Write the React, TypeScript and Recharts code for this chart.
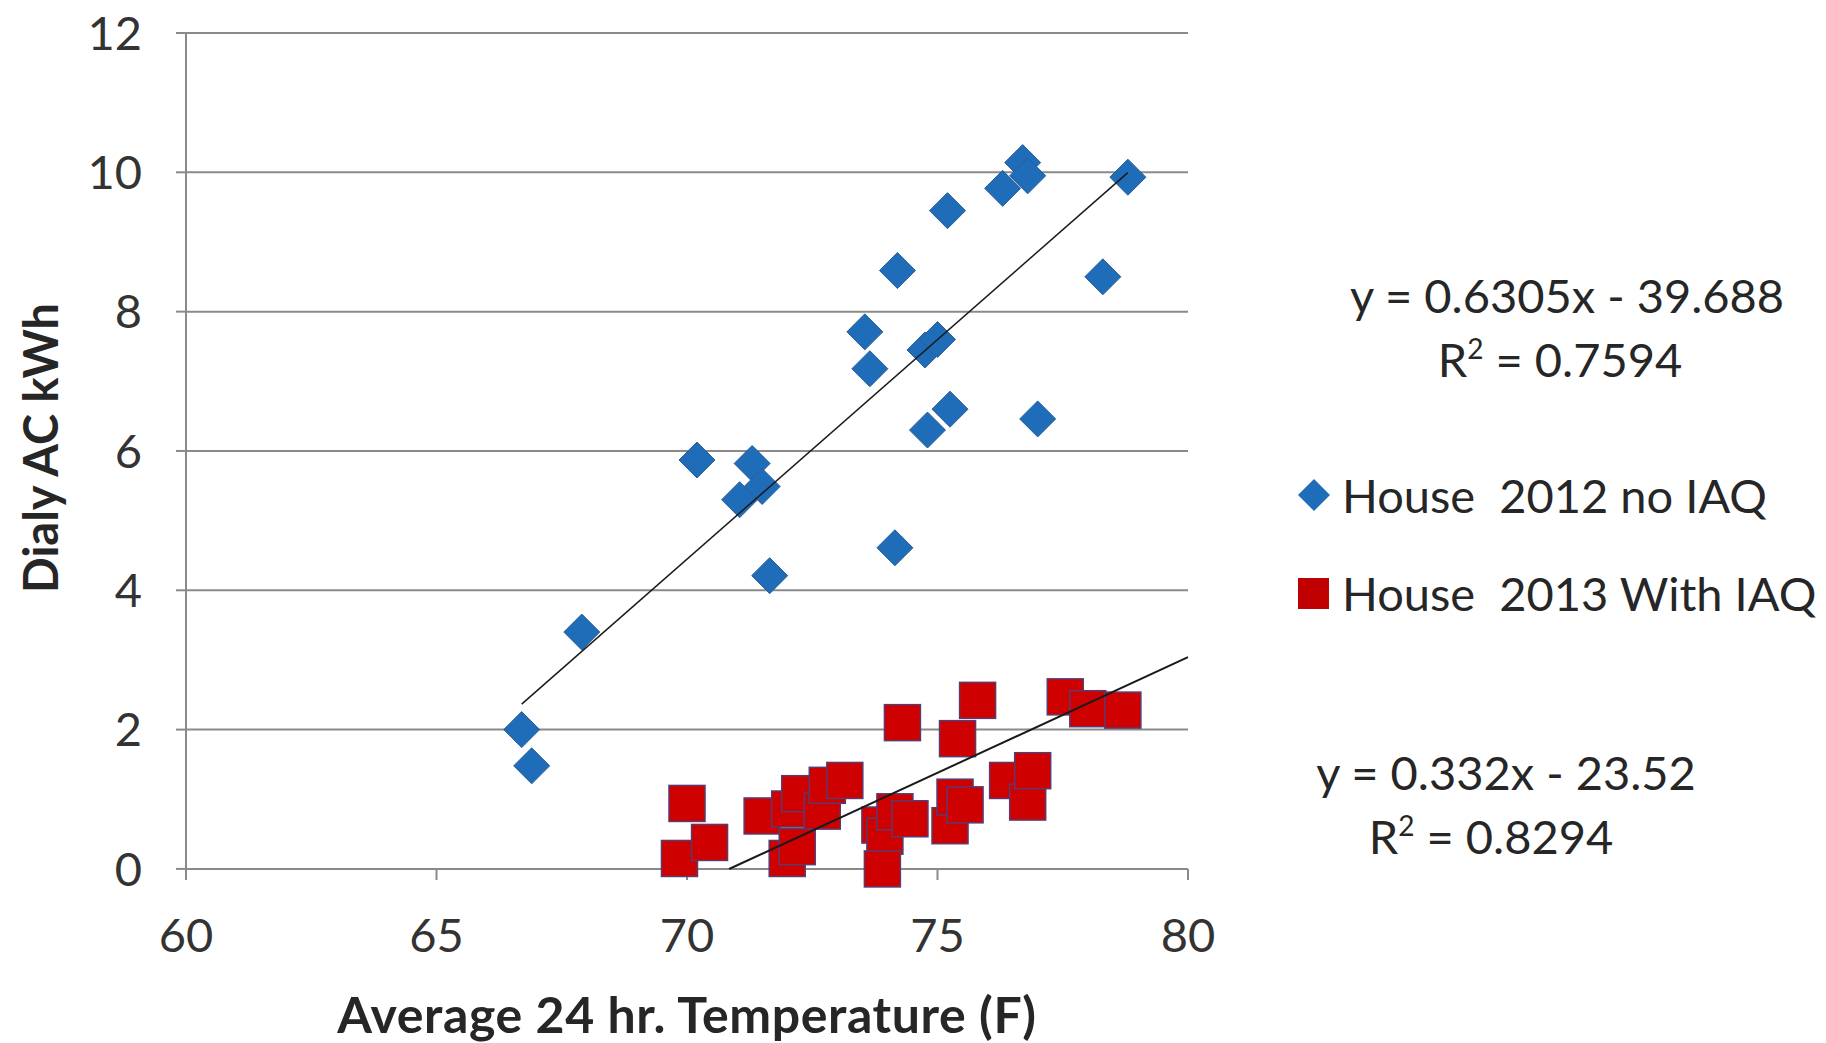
import React from "react";
import { ScatterChart, Scatter, XAxis, YAxis, CartesianGrid, Label } from "recharts";

// axis ticks
const tempTicks = [60, 65, 70, 75, 80];
const kwhTicks = [0, 2, 4, 6, 8, 10, 12];

// House 2012 (no IAQ)
const temp2012 = [66.7, 66.9, 67.9, 70.2, 71.3, 71.05, 71.5, 71.65, 73.55, 73.65, 74.2, 74.15, 74.75, 75.0, 74.8, 75.25, 75.2, 76.3, 76.7, 76.8, 77.0, 78.3, 78.8];
const kwh2012 = [2.0, 1.48, 3.4, 5.87, 5.82, 5.3, 5.49, 4.21, 7.71, 7.18, 8.59, 4.61, 7.45, 7.6, 6.3, 6.6, 9.45, 9.77, 10.14, 9.95, 6.46, 8.5, 9.93];

// House 2013 (with IAQ)
const temp2013 = [69.85, 70.0, 70.45, 71.5, 72.0, 72.2, 72.05, 72.25, 72.7, 72.8, 73.15, 73.85, 73.95, 73.9, 74.15, 74.45, 74.3, 75.25, 75.35, 75.55, 75.4, 75.8, 76.4, 76.8, 76.9, 77.55, 78.0, 78.7];
const kwh2013 = [0.15, 0.94, 0.38, 0.76, 0.15, 0.32, 0.86, 1.08, 0.83, 1.2, 1.27, 0.63, 0.47, 0.0, 0.82, 0.72, 2.1, 0.62, 1.03, 0.92, 1.87, 2.42, 1.27, 0.96, 1.41, 2.47, 2.3, 2.28];

// linear trendlines (from the equations printed on the chart)
const trend2012 = { slope: 0.6305, intercept: -39.688, from: 66.7, to: 78.8 };
const trend2013 = { slope: 0.332, intercept: -23.52, from: 70.84, to: 80 };

const house2012 = temp2012.map((x, i) => ({ x, y: kwh2012[i] }));
const house2013 = temp2013.map((x, i) => ({ x, y: kwh2013[i] }));
const trendPoints = (t: typeof trend2012) =>
  [t.from, t.to].map((x) => ({ x, y: t.slope * x + t.intercept }));

const FONT = "Lato, 'Open Sans', sans-serif";
const BLUE = "#1F6DB8";
const RED = "#CF0000";

const Diamond = (props: any) => {
  const { cx, cy } = props;
  const r = 18;
  return (
    <polygon
      points={`${cx},${cy - r} ${cx + r},${cy} ${cx},${cy + r} ${cx - r},${cy}`}
      fill={BLUE}
      stroke="#2B5E96"
      strokeWidth={1}
    />
  );
};

const Square = (props: any) => {
  const { cx, cy } = props;
  const s = 36;
  return <rect x={cx - s / 2} y={cy - s / 2} width={s} height={s} fill={RED} stroke="#5B3A6E" strokeWidth={1.5} />;
};

const NoDot = () => <g />;

const textStyle: React.CSSProperties = {
  position: "absolute",
  fontFamily: FONT,
  fontSize: 47,
  color: "#262626",
  whiteSpace: "pre",
  transform: "translate(-50%, -50%)",
  lineHeight: 1,
};

const supStyle: React.CSSProperties = { fontSize: 28, verticalAlign: "top", position: "relative", top: -2 };

export default function App() {
  return (
    <div style={{ position: "absolute", left: 0, top: 0, width: 1826, height: 1043, background: "#fff" }}>
      <ScatterChart width={1826} height={1043} margin={{ top: 33, right: 638, bottom: 74, left: 0 }}>
        <CartesianGrid horizontal vertical={false} stroke="#8A8A8A" strokeWidth={2} />
        <XAxis
          type="number"
          dataKey="x"
          domain={[60, 80]}
          ticks={tempTicks}
          height={100}
          tickSize={11}
          tickMargin={39}
          axisLine={{ stroke: "#8A8A8A", strokeWidth: 2 }}
          tickLine={{ stroke: "#8A8A8A", strokeWidth: 2 }}
          tick={{ fill: "#333", fontSize: 47, fontFamily: FONT }}
        >
          <Label
            value="Average 24 hr. Temperature (F)"
            position="bottom"
            offset={28}
            style={{ fontFamily: FONT, fontSize: 50, fontWeight: 700, fill: "#262626", letterSpacing: 0.6 }}
          />
        </XAxis>
        <YAxis
          type="number"
          dataKey="y"
          domain={[0, 12]}
          ticks={kwhTicks}
          width={186}
          tickSize={10}
          tickMargin={34}
          axisLine={{ stroke: "#8A8A8A", strokeWidth: 2 }}
          tickLine={{ stroke: "#8A8A8A", strokeWidth: 2 }}
          tick={{ fill: "#333", fontSize: 47, fontFamily: FONT }}
        >
          <Label
            content={(p: any) => {
              const vb = p.viewBox || {};
              const cx = vb.x + 40;
              const cy = vb.y + vb.height / 2 - 3;
              return (
                <text
                  x={cx}
                  y={cy}
                  transform={`rotate(-90, ${cx}, ${cy})`}
                  textAnchor="middle"
                  dominantBaseline="central"
                  style={{ fontFamily: FONT, fontSize: 47, fontWeight: 700, fill: "#262626" }}
                >
                  Dialy AC kWh
                </text>
              );
            }}
          />
        </YAxis>
        <Scatter name="House 2012 no IAQ" data={house2012} shape={<Diamond />} isAnimationActive={false} />
        <Scatter name="House 2013 With IAQ" data={house2013} shape={<Square />} isAnimationActive={false} />
        <Scatter
          data={trendPoints(trend2012)}
          line={{ stroke: "#1a1a1a", strokeWidth: 1.5 }}
          shape={<NoDot />}
          legendType="none"
          isAnimationActive={false}
        />
        <Scatter
          data={trendPoints(trend2013)}
          line={{ stroke: "#1a1a1a", strokeWidth: 2 }}
          shape={<NoDot />}
          legendType="none"
          isAnimationActive={false}
        />
      </ScatterChart>

      <div style={{ ...textStyle, left: 1567, top: 295 }}>y = 0.6305x - 39.688</div>
      <div style={{ ...textStyle, left: 1560, top: 359 }}>
        R<sup style={supStyle}>2</sup> = 0.7594
      </div>
      <div style={{ ...textStyle, left: 1506, top: 772 }}>y = 0.332x - 23.52</div>
      <div style={{ ...textStyle, left: 1491, top: 836 }}>
        R<sup style={supStyle}>2</sup> = 0.8294
      </div>

      <div style={{ position: "absolute", left: 1294, top: 470, fontFamily: FONT, fontSize: 47, color: "#262626", lineHeight: 1 }}>
        <div style={{ display: "flex", alignItems: "center", height: 50 }}>
          <svg width={40} height={40} style={{ marginRight: 8 }}>
            <polygon points="20,4 36,20 20,36 4,20" fill={BLUE} />
          </svg>
          <span style={{ whiteSpace: "pre" }}>House  2012 no IAQ</span>
        </div>
        <div style={{ display: "flex", alignItems: "center", height: 50, marginTop: 48 }}>
          <svg width={40} height={40} style={{ marginRight: 8 }}>
            <rect x={4} y={5} width={31} height={31} fill="#C00000" />
          </svg>
          <span style={{ whiteSpace: "pre" }}>House  2013 With IAQ</span>
        </div>
      </div>
    </div>
  );
}
